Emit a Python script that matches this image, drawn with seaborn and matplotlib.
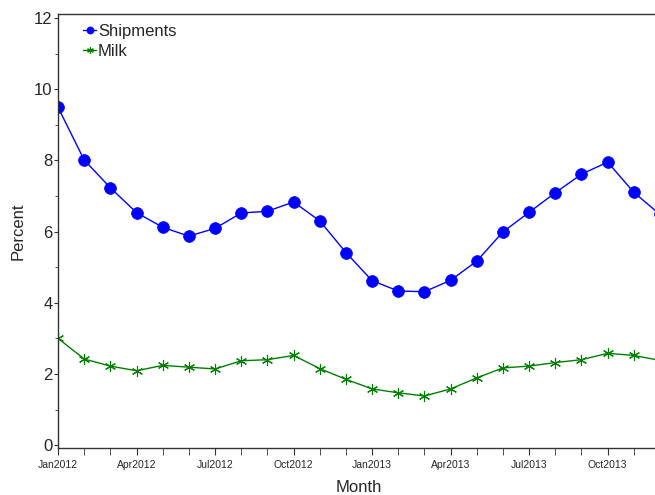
import numpy as np
import pandas as pd
import matplotlib
matplotlib.use('Agg')
import matplotlib.pyplot as plt
import seaborn as sns
from matplotlib.ticker import MultipleLocator

# monthly values, Jan2012 .. Dec2013
months = pd.date_range('2012-01-01', periods=24, freq='MS')
shipments = [9.49, 8.01, 7.23, 6.53, 6.12, 5.87, 6.09, 6.52, 6.57, 6.83, 6.30, 5.41,
             4.62, 4.33, 4.31, 4.63, 5.17, 5.99, 6.54, 7.09, 7.61, 7.95, 7.10, 6.48]
milk = [3.00, 2.42, 2.22, 2.09, 2.24, 2.19, 2.14, 2.37, 2.40, 2.52, 2.15, 1.85,
        1.58, 1.47, 1.38, 1.58, 1.89, 2.17, 2.22, 2.32, 2.40, 2.58, 2.52, 2.38]
tick_months = [0, 3, 6, 9, 12, 15, 18, 21]
tick_labels = [months[i].strftime('%b%Y') for i in tick_months]

df = pd.DataFrame({'idx': np.arange(len(months)), 'Shipments': shipments, 'Milk': milk})

sns.set_style('ticks')
plt.rcParams['font.family'] = ['Liberation Sans', 'DejaVu Sans']

fig = plt.figure(figsize=(6.55, 4.95), dpi=100)
ax = fig.add_axes([58 / 655, 47 / 495, 602 / 655, 434 / 495])

sns.lineplot(data=df, x='idx', y='Shipments', ax=ax, color='#0000ff', lw=1,
             marker='o', markersize=8.5, markeredgecolor='#0000ff', markeredgewidth=0.5,
             label='Shipments')
sns.lineplot(data=df, x='idx', y='Milk', ax=ax, color='#008000', lw=1,
             marker=(6, 2, 0), markersize=8, markeredgecolor='#008000', markeredgewidth=0.8,
             label='Milk')

ax.set_xlim(0, 23)
ax.set_ylim(-0.08, 12.11)
ax.set_xticks(tick_months)
ax.set_xticklabels(tick_labels, fontsize=7.5)
ax.xaxis.set_minor_locator(MultipleLocator(1))
ax.yaxis.set_major_locator(MultipleLocator(2))
ax.yaxis.set_minor_locator(MultipleLocator(1))
ax.tick_params(axis='y', which='major', labelsize=12, length=3, pad=1, color='#333333')
ax.tick_params(axis='y', which='minor', length=2, color='#333333')
ax.tick_params(axis='x', which='both', length=5, pad=4, color='#333333')

ax.set_xlabel('Month', fontsize=12, labelpad=7)
ax.set_ylabel('Percent', fontsize=12, labelpad=6)

for sp in ax.spines.values():
    sp.set_color('#333333')
    sp.set_linewidth(1)

ax.legend(loc='upper left', frameon=False, fontsize=12, handlelength=0.8,
          handletextpad=0.1, markerscale=0.6, labelspacing=0.3,
          borderaxespad=0.2, bbox_to_anchor=(0.025, 1.0))

fig.savefig('out.png', dpi=100)
